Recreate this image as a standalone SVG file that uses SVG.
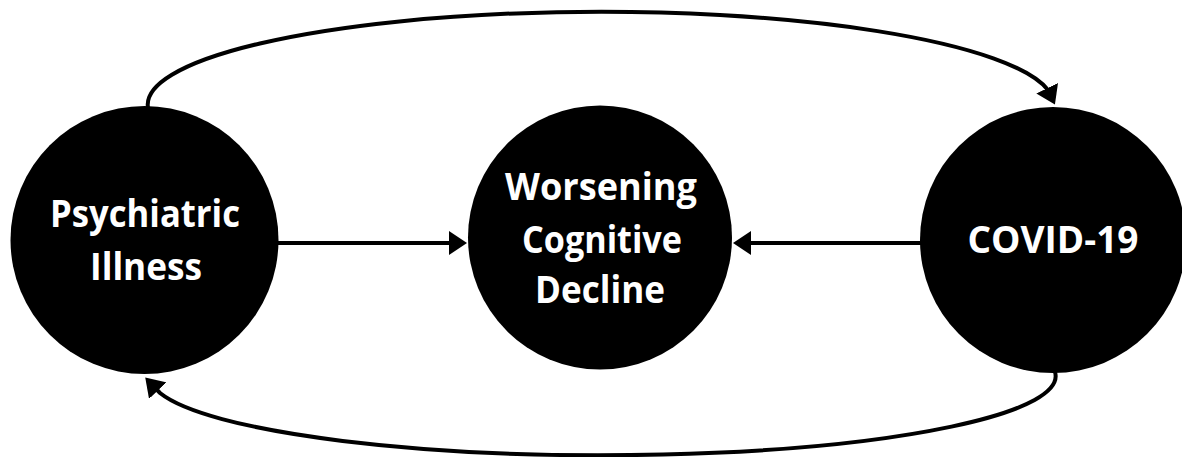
<svg xmlns="http://www.w3.org/2000/svg" width="1182" height="457" viewBox="0 0 1182 457">
<style>
.node{fill:#000}
.lbl{fill:#fff;font-family:"Open Sans","Liberation Sans",sans-serif;font-weight:bold;font-size:37px;text-anchor:middle}
.conn{fill:none;stroke:#000;stroke-width:4;marker-end:url(#arrow)}
</style>
<defs>
<marker id="arrow" markerUnits="userSpaceOnUse" markerWidth="18" markerHeight="24" refX="14" refY="12" orient="auto">
<path d="M0,0 L18,12 L0,24 Z" fill="#000"/>
</marker>
</defs>
<rect width="1182" height="457" fill="#fff"/>
<g id="connectors">
<path class="conn" d="M148,108 A453,93 0 0 1 1048,90 L1053.2,100.9"/>
<path class="conn" d="M1055,372 A453,79 0 0 1 160,393 L148,380.5"/>
<path class="conn" d="M276,243 L463,243"/>
<path class="conn" d="M922,243 L737,243"/>
</g>
<g id="psychiatric-illness">
<circle class="node" cx="144.5" cy="240" r="134"/>
<text class="lbl" x="145" y="227" textLength="190" lengthAdjust="spacingAndGlyphs">Psychiatric</text>
<text class="lbl" x="146" y="280" textLength="112" lengthAdjust="spacingAndGlyphs">Illness</text>
</g>
<g id="worsening-cognitive-decline">
<circle class="node" cx="600" cy="237.5" r="132"/>
<text class="lbl" x="601" y="200" textLength="192" lengthAdjust="spacingAndGlyphs">Worsening</text>
<text class="lbl" x="602" y="253" textLength="160" lengthAdjust="spacingAndGlyphs">Cognitive</text>
<text class="lbl" x="600" y="303" textLength="130" lengthAdjust="spacingAndGlyphs">Decline</text>
</g>
<g id="covid-19">
<circle class="node" cx="1053" cy="240" r="133"/>
<text class="lbl" x="1053" y="253" textLength="171" lengthAdjust="spacingAndGlyphs">COVID-19</text>
</g>
</svg>
